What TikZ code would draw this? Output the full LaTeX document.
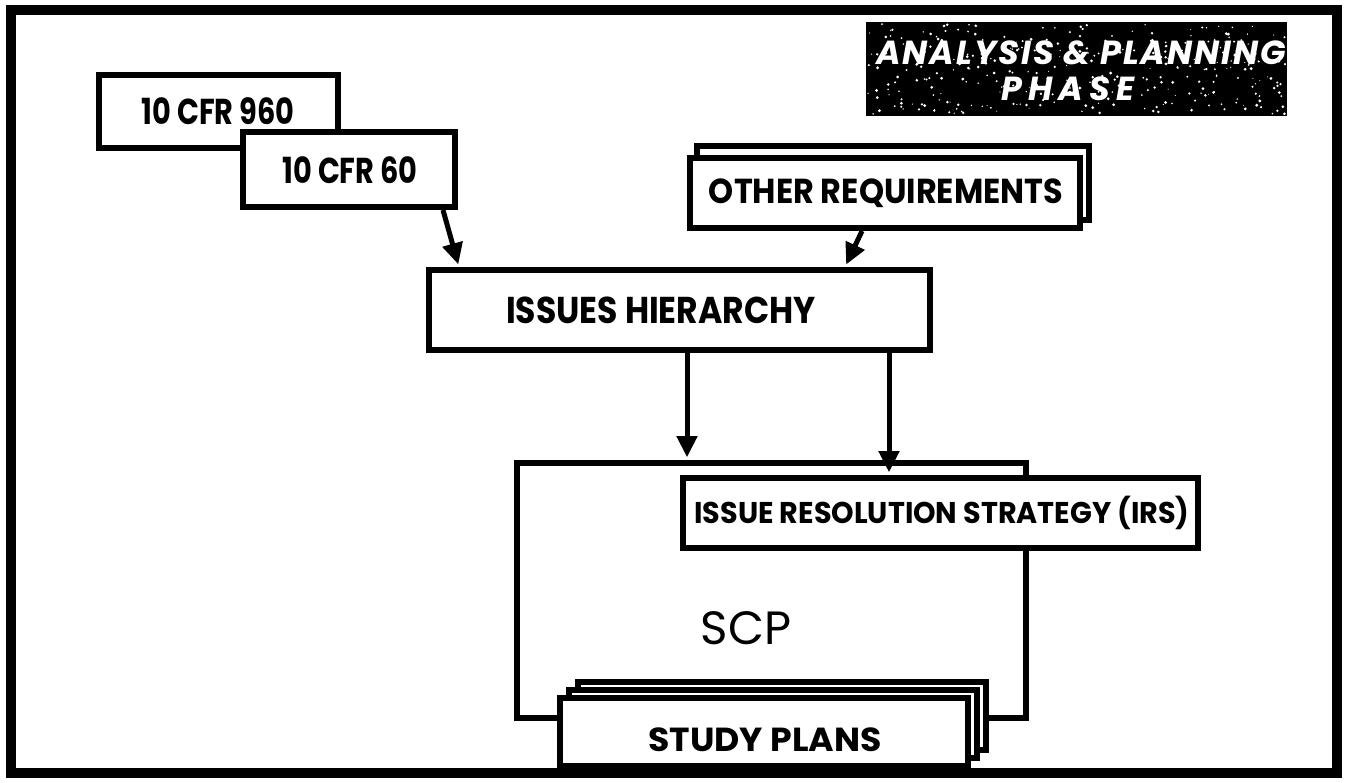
\documentclass[tikz,border=0pt]{standalone}
\usepackage{fontspec}
\setmainfont{Poppins}
\newfontfamily\bannerfont{Poppins}[LetterSpace=6]
\usetikzlibrary{arrows.meta,fit,calc}

% horizontal squeeze of a label
\newcommand\hsq[2]{\scalebox{#1}[1]{#2}}

\tikzset{
  frameline/.style={line width=8pt},
  box/.style={draw, fill=white, line width=4.5pt, inner sep=0pt},
  boxtext/.style={font=\bfseries\fontsize{#1}{#1}\selectfont, inner sep=0pt},
  flow/.style={line width=3.75pt, -{Triangle[width=15pt,length=16pt]}, shorten >=2pt},
  titletext/.style={text=white, font=\bannerfont\bfseries\itshape\fontsize{25}{27}\selectfont, inner sep=0pt}
}

\begin{document}
\begin{tikzpicture}[x=0.75pt,y=-0.75pt]
  \useasboundingbox (0,0) rectangle (1346,782);

  % outer frame
  \draw[frameline] (11,10) rectangle (1337,773);

  % phase banner with speckled print
  \node[fill=black, inner sep=0pt, fit={(866,22)(1287,116)}] (banner) {};
  \pgfmathsetseed{41}
  \foreach \i in {1,...,340}{
    \fill[white] ({868+rnd*417},{24+rnd*90}) circle ({0.5+rnd*1.1});
  }
  \node[titletext] (bt1) at (1081,53) {ANALYSIS \& PLANNING};
  \node[titletext] (bt2) at (1068,89) {\addfontfeatures{LetterSpace=18}PHASE};

  % regulations
  \node[box, fit={(99,75)(338,148)}] (c960) {};
  \node[boxtext=27] (t960) at (218,111) {\hsq{0.8}{10 CFR 960}};
  \node[box, fit={(243,132)(455,207)}] (c60) {};
  \node[boxtext=27] (t60) at (350,170) {\hsq{0.8}{10 CFR 60}};

  % other requirements (stacked sheets)
  \node[box, fit={(697,146)(1089,220)}] (orback) {};
  \node[box, fit={(690,158)(1080,228)}] (or) {};
  \node[boxtext=26] (tor) at (886,193) {\hsq{0.92}{OTHER REQUIREMENTS}};

  % issues hierarchy
  \node[box, fit={(429,270)(930,350)}] (ih) {};
  \node[boxtext=28] (tih) at (661,310) {\hsq{0.885}{ISSUES HIERARCHY}};

  % site characterization plan
  \node[box, fit={(517,463)(1026,718)}] (scp) {};
  \node[font=\fontsize{35}{38}\selectfont, inner sep=0pt] (tscp) at (746,628) {SCP};

  % issue resolution strategy
  \node[box, fit={(683,478)(1198,548)}] (irs) {};
  \node[boxtext=22.5] (tirs) at (942,513) {\hsq{0.955}{ISSUE RESOLUTION STRATEGY (IRS)}};

  % study plans (stacked sheets)
  \node[box, fit={(578,682)(986,750)}] (sp3) {};
  \node[box, fit={(569,690)(977,758)}] (sp2) {};
  \node[box, fit={(560,698)(968,766)}] (sp) {};
  \node[boxtext=25] (tsp) at (765,740) {\hsq{1.04}{STUDY PLANS}};

  % flows
  \draw[flow] ($(c60.south west)+(203,0)$) -- ($(ih.north west)+(33,0)$);
  \draw[flow] ($(or.south west)+(175,0)$) -- ($(ih.north west)+(419,0)$);
  \draw[flow] ($(ih.south west)+(261,0)$) -- ($(scp.north west)+(173,0)$);
  \draw[flow] ($(ih.south west)+(463,0)$) -- ($(irs.north west)+(209,0)$);
  \coordinate (spout) at (714,771);
  \draw[line width=3.75pt] (sp.south -| spout) -- (spout);
\end{tikzpicture}
\end{document}
